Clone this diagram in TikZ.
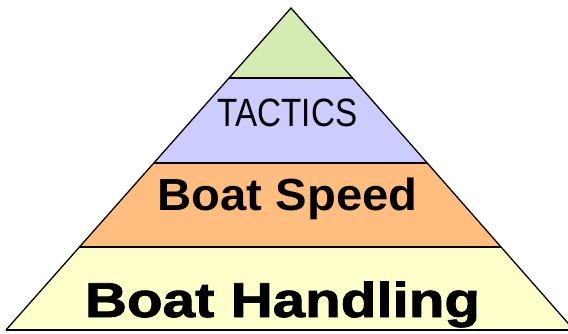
\documentclass[tikz,border=0pt]{standalone}
\usepackage{fontspec}
\setmainfont{Liberation Sans}
\newfontfamily\lourd[FakeBold=1.6]{Liberation Sans Bold}
\usetikzlibrary{calc}
\definecolor{sommet}{RGB}{214,235,180}
\definecolor{tactique}{RGB}{204,204,255}
\definecolor{vitesse}{RGB}{255,190,128}
\definecolor{manoeuvre}{RGB}{255,255,204}
\begin{document}
\begin{tikzpicture}[x=1pt,y=-1pt]
\tikzstyle{etage}=[draw,line width=1.3pt,line join=miter]
\tikzset{niveau/.style={inner sep=0pt,anchor=base,font=#1},
niveau/.default={\Large}}
\useasboundingbox (0,0) rectangle (568,333);
\clip (0,0) rectangle (568,333);
% sommet et coins de la pyramide
\coordinate (A) at (291,8);
\coordinate (L1) at (229,78);  \coordinate (R1) at (353,78);
\coordinate (L2) at (154,163); \coordinate (R2) at (427,163);
\coordinate (L3) at (80,247);  \coordinate (R3) at (501,247);
\coordinate (L4) at (6,330);   \coordinate (R4) at (574,330);
% etages
\fill [manoeuvre] (L3) -- (R3) -- (R4) -- (L4) -- cycle;
\fill [vitesse] (L2) -- (R2) -- (R3) -- (L3) -- cycle;
\fill [tactique] (L1) -- (R1) -- (R2) -- (L2) -- cycle;
\fill [sommet] (A) -- (R1) -- (L1) -- cycle;
\draw [etage] (L1) -- (R1) (L2) -- (R2) (L3) -- (R3);
\draw [etage] (L4) -- (A) -- (R4);
\draw [line width=2.4pt] (L4) -- (R4);
% textes
\node [niveau={\fontsize{39.5}{40}\selectfont},xscale=0.84] (tactics) at (287.5,126.5) {TACTICS};
\node [niveau={\fontsize{45}{46}\selectfont\bfseries},xscale=1.05] (speed) at (287.5,210) {Boat Speed};
\node [niveau={\fontsize{49}{50}\selectfont\lourd},xscale=1.19] (handling) at (282.5,317) {Boat Handling};
\end{tikzpicture}
\end{document}
